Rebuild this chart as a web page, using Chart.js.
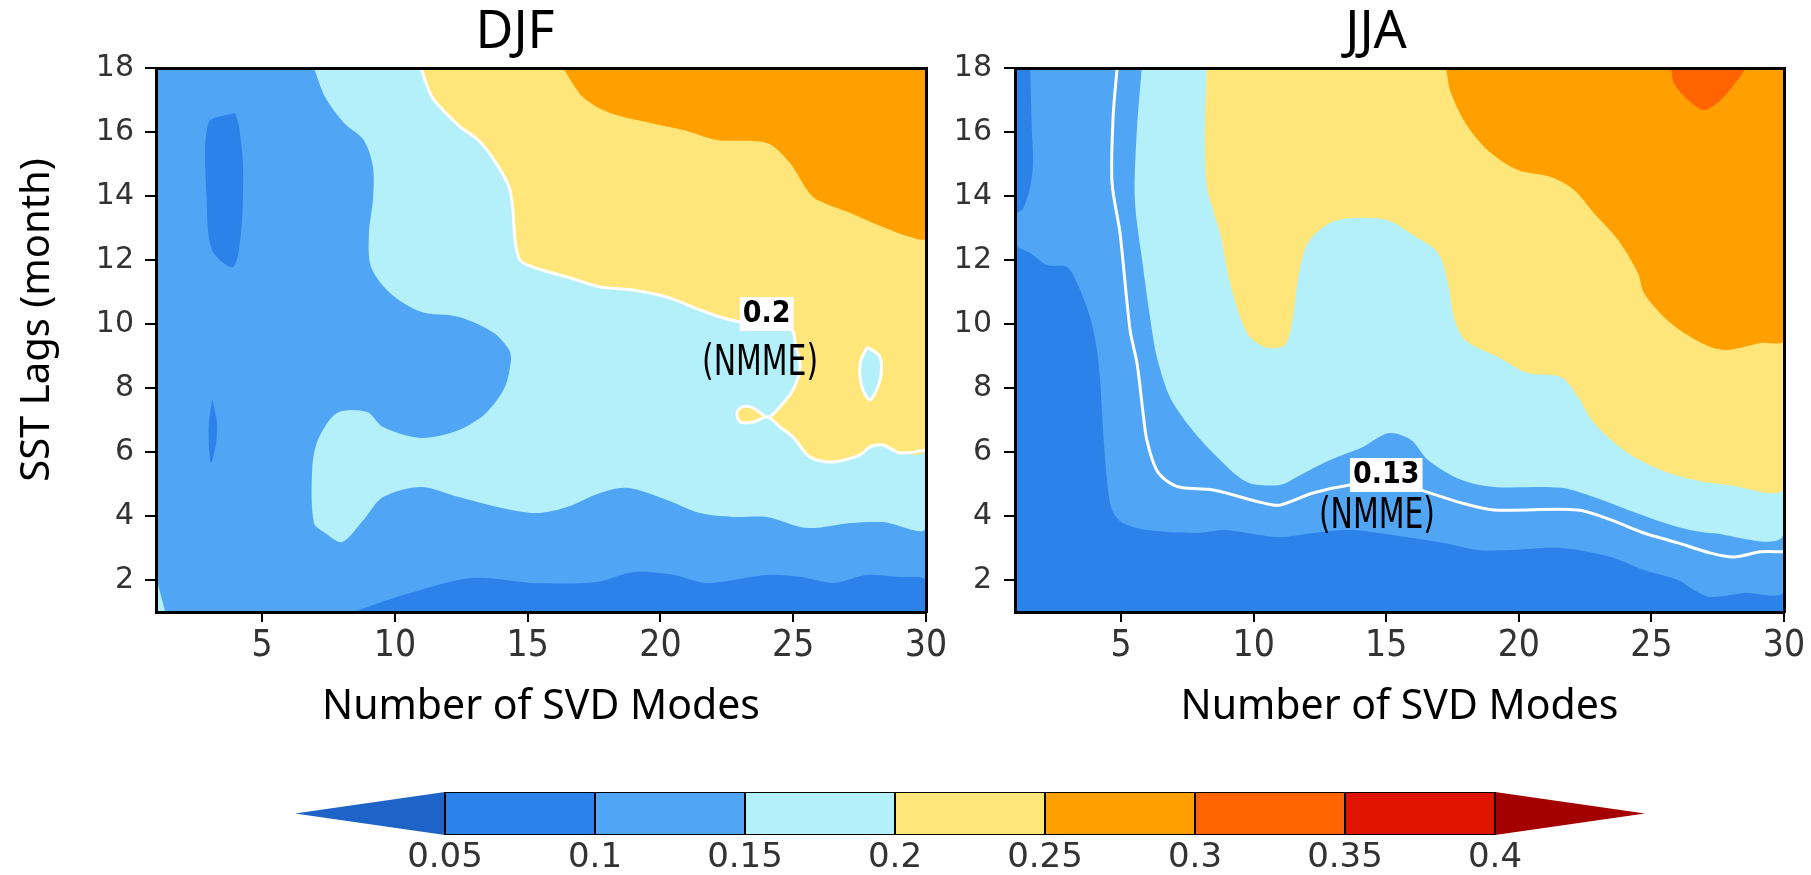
<!DOCTYPE html>
<html>
<head>
<meta charset="utf-8">
<script src="https://cdn.jsdelivr.net/npm/chart.js@4.4.1/dist/chart.umd.min.js"></script>
<style>
  html, body { margin: 0; padding: 0; background: #fff; }
  #page { position: relative; width: 1811px; height: 875px; overflow: hidden; background: #fff; }
  canvas { position: absolute; }
</style>
</head>
<body>
<div id="page">
  <canvas id="djf" width="1030" height="760" style="left:0px;top:0px"></canvas>
  <canvas id="jja" width="870" height="760" style="left:941px;top:0px"></canvas>
  <canvas id="cbar" width="1811" height="105" style="left:0px;top:770px"></canvas>
</div>
<script>
'use strict'

const xTicks = [5, 10, 15, 20, 25, 30]
const yTicks = [2, 4, 6, 8, 10, 12, 14, 16, 18]
const levels = [0.05, 0.1, 0.15, 0.2, 0.25, 0.3, 0.35, 0.4]
const levelLabels = ['0.05', '0.1', '0.15', '0.2', '0.25', '0.3', '0.35', '0.4']
const shades = ['#1e64c8', '#2b83ea', '#50a5f5', '#b4f0fa', '#ffe67a', '#ffa000', '#ff6400', '#e11400', '#a50000']

// contour edges, [svd modes, lag months]
const frame = [[1, 1], [30, 1], [30, 18], [1, 18]]

const djfDarkBottom = [[8.4, 1.0], [10.6, 1.6], [12.9, 2.06], [15.2, 1.91], [17.6, 1.94], [19.0, 2.25], [20.5, 2.16],
  [21.75, 1.91], [24.0, 2.16], [25.3, 2.09], [26.5, 1.91], [27.8, 2.16], [29.0, 2.09], [30, 2.0]]
const djfDarkUpper = [[3.98, 16.59], [2.98, 16.28], [2.91, 13.88], [3.11, 12.31], [3.9, 11.78], [4.2, 12.84],
  [4.28, 14.9], [4.13, 16.16], [3.98, 16.59]]
const djfDarkLower = [[3.12, 7.65], [3.0, 7.0], [2.98, 6.4], [3.07, 5.66], [3.25, 6.2], [3.3, 6.9], [3.12, 7.65]]
const djfCorner = [[1, 2.1], [1.35, 1], [1, 1]]
const djfCyan = [[6.95, 18], [7.37, 17.09], [8.08, 16.28], [8.82, 15.75], [9.17, 14.91], [9.17, 13.88], [9.02, 12.84],
  [9.1, 11.78], [9.81, 10.97], [10.98, 10.38], [12.41, 10.22], [13.73, 9.72], [14.3, 9.19], [14.37, 8.88],
  [14.14, 8.03], [13.43, 7.22], [12.41, 6.69], [10.98, 6.44], [9.55, 6.78], [8.95, 7.25], [7.82, 7.22],
  [7.1, 6.38], [6.88, 5.44], [6.95, 3.78], [7.37, 3.47], [8.02, 3.19], [8.82, 3.88], [9.55, 4.59],
  [10.98, 4.91], [12.41, 4.59], [13.86, 4.28], [15.31, 4.09], [16.48, 4.28], [17.72, 4.72], [18.74, 4.88],
  [20.25, 4.5], [21.49, 4.09], [22.73, 3.97], [24.01, 3.97], [25.26, 3.66], [25.9, 3.63], [27.14, 3.78],
  [28.38, 3.81], [30, 3.66]]
const djfYellow = [[10.98, 18], [11.4, 17.09], [12.4, 16.2], [13.13, 15.75], [13.73, 15.13], [14.3, 14.28],
  [14.45, 13.47], [14.52, 12.63], [14.71, 12.0], [15.2, 11.78], [16.48, 11.47], [17.72, 11.16], [18.97, 11.06],
  [20.25, 10.84], [21.49, 10.44], [22.24, 10.22], [23.0, 10.06], [23.94, 9.91], [24.95, 9.81], [25.07, 9.41],
  [25.26, 8.66], [24.99, 7.94], [24.5, 7.41], [24.05, 7.09], [23.49, 7.38], [23.07, 7.41], [22.88, 7.22],
  [23.0, 6.94], [23.49, 6.94], [24.05, 7.09], [24.5, 6.78], [24.99, 6.47], [25.63, 5.84], [26.5, 5.69],
  [27.52, 5.91], [27.89, 6.16], [28.38, 6.22], [29.02, 5.97], [30, 6.06]]
const djfCyanSpot = [[27.78, 9.28], [27.52, 8.78], [27.59, 8.03], [27.89, 7.63], [28.27, 8.25], [28.27, 8.97], [27.78, 9.28]]
const djfOrange = [[16.33, 18], [17.08, 17.09], [18.1, 16.59], [19.61, 16.28], [20.85, 16.06], [22.13, 15.75],
  [24.01, 15.66], [24.88, 15.03], [25.52, 14.19], [25.9, 13.88], [27.14, 13.47], [28.38, 13.03], [29.4, 12.72], [30, 12.69]]

const jjaMid = [[1.57, 18], [1.64, 15.97], [1.68, 15.03], [1.57, 14.28], [1.3, 13.6], [1.0, 13.4], [1.0, 12.5],
  [1.57, 12.22], [2.21, 11.84], [2.96, 11.78], [3.34, 11.28], [3.83, 10.22], [4.09, 9.19], [4.21, 8.25],
  [4.32, 6.69], [4.47, 5.13], [4.66, 4.19], [5.07, 3.78], [5.98, 3.56], [7.86, 3.47], [8.84, 3.56], [9.75, 3.47],
  [10.99, 3.34], [12.24, 3.47], [13.63, 3.56], [14.69, 3.47], [17.18, 3.16], [18.46, 2.94], [19.7, 2.94],
  [21.59, 3.0], [23.47, 2.72], [24.72, 2.31], [26.0, 2.0], [26.6, 1.69], [27.24, 1.47], [28.49, 1.59], [30, 1.69]]
const jjaCyan = [[5.78, 18], [5.59, 15.97], [5.52, 13.88], [5.83, 11.78], [6.09, 10.22], [6.35, 8.97], [6.84, 7.72],
  [7.6, 6.78], [8.47, 5.97], [9.75, 5.06], [10.99, 4.97], [11.63, 5.22], [12.88, 5.75], [14.12, 6.16], [15.1, 6.59],
  [15.93, 6.38], [16.57, 5.75], [17.82, 5.13], [19.06, 4.91], [21.59, 4.88], [22.83, 4.59], [24.11, 4.19],
  [26.0, 3.66], [27.24, 3.47], [30, 3.47]]
const jjaYellow = [[8.23, 18], [8.16, 15.97], [8.24, 14.28], [8.73, 12.84], [9.11, 11.28], [9.75, 9.72],
  [10.43, 9.28], [11.18, 9.34], [11.48, 10.22], [11.75, 11.78], [12.12, 12.63], [12.88, 13.16], [13.75, 13.31],
  [15.03, 13.25], [16.01, 12.78], [16.95, 12.22], [17.33, 11.28], [17.55, 10.22], [17.97, 9.5], [19.21, 8.97],
  [20.34, 8.47], [21.59, 8.34], [22.23, 7.72], [22.83, 6.91], [24.11, 5.97], [25.36, 5.44], [26.6, 5.13],
  [27.88, 4.97], [30, 4.91]]
const jjaOrange = [[17.25, 18], [17.44, 17.22], [18.08, 16.16], [18.95, 15.34], [19.97, 14.81], [21.21, 14.59],
  [22.08, 14.19], [22.83, 13.47], [23.74, 12.63], [24.49, 11.59], [24.72, 10.97], [25.47, 10.22], [26.23, 9.72],
  [27.24, 9.28], [27.88, 9.19], [29.13, 9.41], [30, 9.5]]
const jjaRed = [[25.74, 18], [25.85, 17.53], [26.38, 17.0], [26.98, 16.69], [27.62, 17.0], [28.26, 17.63], [28.56, 18]]
const jjaLine = [[4.85, 18], [4.7, 16.47], [4.66, 14.41], [4.96, 12.84], [5.34, 9.81], [5.6, 8.78], [5.83, 7.22],
  [5.97, 6.38], [6.34, 5.44], [6.84, 5.03], [7.33, 4.88], [8.47, 4.81], [10.35, 4.41], [10.99, 4.34], [12.24, 4.72],
  [13.63, 4.97], [14.99, 5.06], [16.31, 4.81], [17.82, 4.41], [19.06, 4.19], [22.23, 4.19], [23.47, 3.88],
  [24.72, 3.47], [26.0, 3.16], [27.24, 2.84], [28.11, 2.72], [29.13, 2.88], [30, 2.88]]

const djfNotes = [['0.2', 24.0, 10.31], ['(NMME)', 23.75, 8.75]]
const jjaNotes = [['0.13', 15.0, 5.28], ['(NMME)', 14.65, 3.97]]

const tickFont = '"DejaVu Sans Condensed", "Liberation Sans Narrow", "DejaVu Sans"'

function toXY(pts) {
  return pts.map(p => ({ x: p[0], y: p[1] }))
}

function area(edge, color, corner, tension) {
  const pts = corner ? edge.concat([corner]) : edge
  return {
    data: toXY(pts),
    fill: 'shape',
    backgroundColor: color,
    borderWidth: 0,
    pointRadius: 0,
    tension: tension === undefined ? 0.3 : tension
  }
}

function contour(edge) {
  return {
    data: toXY(edge),
    fill: false,
    borderColor: '#ffffff',
    borderWidth: 3,
    pointRadius: 0,
    tension: 0.3
  }
}

// first in list is painted first (bottom)
function stack(list) {
  return list.map((d, i) => Object.assign(d, { order: list.length - i }))
}

const notesPlugin = {
  id: 'notes',
  afterDatasetsDraw(chart, args, opts) {
    const ctx = chart.ctx
    const xs = chart.scales.x
    const ys = chart.scales.y
    ;(opts.items || []).forEach(([text, x, y], i) => {
      const px = xs.getPixelForValue(x)
      const py = ys.getPixelForValue(y)
      ctx.save()
      ctx.textAlign = 'center'
      ctx.textBaseline = 'middle'
      if (i === 0) {
        ctx.font = 'bold 30px "DejaVu Sans Condensed", "DejaVu Sans"'
        const w = ctx.measureText(text).width + 6
        ctx.fillStyle = '#ffffff'
        ctx.fillRect(px - w / 2, py - 17, w, 34)
        ctx.fillStyle = '#000000'
        ctx.fillText(text, px, py)
      } else {
        // narrow lettering as in the figure
        ctx.font = '500 42px "DejaVu Sans"'
        const k = 116 / ctx.measureText(text).width
        ctx.translate(px, py)
        ctx.scale(k, 1)
        ctx.fillStyle = '#000000'
        ctx.fillText(text, 0, 0)
      }
      ctx.restore()
    })
  }
}

function panelOptions(title, yTitle, yWidth, yRightWidth, labelPad, notes) {
  const edge = { color: '#000', width: 3, z: 1 }
  return {
    responsive: false,
    animation: false,
    events: [],
    layout: { padding: 0 },
    plugins: {
      legend: { display: false },
      tooltip: { enabled: false },
      title: {
        display: true, text: title, color: '#000',
        font: { family: 'Noto Sans', size: 52, weight: 'normal', lineHeight: 1 },
        padding: { top: 7, bottom: 9 }
      },
      notes: { items: notes }
    },
    scales: {
      x: {
        type: 'linear', min: 1, max: 30, position: 'bottom',
        afterBuildTicks: s => { s.ticks = xTicks.map(v => ({ value: v })) },
        afterFit: s => { s.height = 148 },
        ticks: { color: '#333', padding: 2, maxRotation: 0, autoSkip: false, font: { family: tickFont, size: 37 } },
        grid: { drawOnChartArea: false, color: '#000', lineWidth: 2, tickLength: 10 },
        border: edge,
        title: {
          display: true, text: 'Number of SVD Modes', color: '#000',
          font: { family: 'Noto Sans', size: 41 }, padding: { top: 0, bottom: 28 }
        }
      },
      y: {
        type: 'linear', min: 1, max: 18, position: 'left',
        afterBuildTicks: s => { s.ticks = yTicks.map(v => ({ value: v })) },
        afterFit: s => { s.width = yWidth },
        ticks: { color: '#333', padding: labelPad, autoSkip: false, font: { family: 'DejaVu Sans', size: 30 } },
        grid: { drawOnChartArea: false, color: '#000', lineWidth: 2, tickLength: 11 },
        border: edge,
        title: {
          display: !!yTitle, text: yTitle, color: '#000',
          font: { family: 'Noto Sans', size: 40 }, padding: { top: 14, bottom: 0 }
        }
      },
      xTop: {
        type: 'linear', min: 1, max: 30, position: 'top',
        ticks: { display: false }, grid: { display: false }, border: edge,
        afterFit: s => { s.height = 0 }
      },
      yRight: {
        type: 'linear', min: 1, max: 18, position: 'right',
        ticks: { display: false }, grid: { display: false }, border: edge,
        afterFit: s => { s.width = yRightWidth }
      }
    }
  }
}

Chart.defaults.font.family = 'Noto Sans'

new Chart(document.getElementById('djf'), {
  type: 'line',
  data: {
    datasets: stack([
      area(frame, shades[2], null, 0),
      area(djfDarkBottom, shades[1], [30, 1]),
      area(djfDarkUpper, shades[1]),
      area(djfDarkLower, shades[1]),
      area(djfCorner, shades[3], null, 0),
      area(djfCyan, shades[3], [30, 18]),
      area(djfYellow, shades[4], [30, 18]),
      contour(djfYellow),
      area(djfCyanSpot, shades[3]),
      contour(djfCyanSpot),
      area(djfOrange, shades[5], [30, 18])
    ])
  },
  // leading en spaces lift the centred axis title to where the figure has it
  options: panelOptions('DJF', '\u2002\u2002SST Lags (month)', 156, 104, 11, djfNotes),
  plugins: [notesPlugin]
})

new Chart(document.getElementById('jja'), {
  type: 'line',
  data: {
    datasets: stack([
      area(frame, shades[1], null, 0),
      area(jjaMid, shades[2], [30, 18]),
      area(jjaCyan, shades[3], [30, 18]),
      area(jjaYellow, shades[4], [30, 18]),
      area(jjaOrange, shades[5], [30, 18]),
      area(jjaRed, shades[6]),
      contour(jjaLine)
    ])
  },
  options: panelOptions('JJA', '', 74, 27, 12, jjaNotes),
  plugins: [notesPlugin]
})

// colour bar: boxes between levels plus the two end triangles
const barSets = [
  area([[levels[0], 0], [0, 0.5], [levels[0], 1]], shades[0], null, 0),
  area([[levels[7], 0], [0.45, 0.5], [levels[7], 1]], shades[8], null, 0)
]
for (let i = 0; i < levels.length - 1; i++) {
  const lo = levels[i]
  const hi = levels[i + 1]
  const box = area([[lo, 0], [hi, 0], [hi, 1], [lo, 1], [lo, 0]], shades[i + 1], null, 0)
  box.borderColor = '#000'
  box.borderWidth = 2
  barSets.push(box)
}

new Chart(document.getElementById('cbar'), {
  type: 'line',
  data: { datasets: stack(barSets) },
  options: {
    responsive: false,
    animation: false,
    events: [],
    layout: { padding: { left: 295, right: 166, top: 22, bottom: 0 } },
    plugins: { legend: { display: false }, tooltip: { enabled: false } },
    scales: {
      x: {
        type: 'linear', min: 0, max: 0.45,
        afterBuildTicks: s => { s.ticks = levels.map(v => ({ value: v })) },
        afterFit: s => { s.height = 40 },
        ticks: {
          callback: (v, i) => levelLabels[i], color: '#333', padding: 3, maxRotation: 0, autoSkip: false,
          font: { family: 'DejaVu Sans', size: 34 }
        },
        grid: { display: false, drawTicks: false },
        border: { display: false }
      },
      y: { type: 'linear', min: 0, max: 1, display: false }
    }
  }
})
</script>
</body>
</html>
